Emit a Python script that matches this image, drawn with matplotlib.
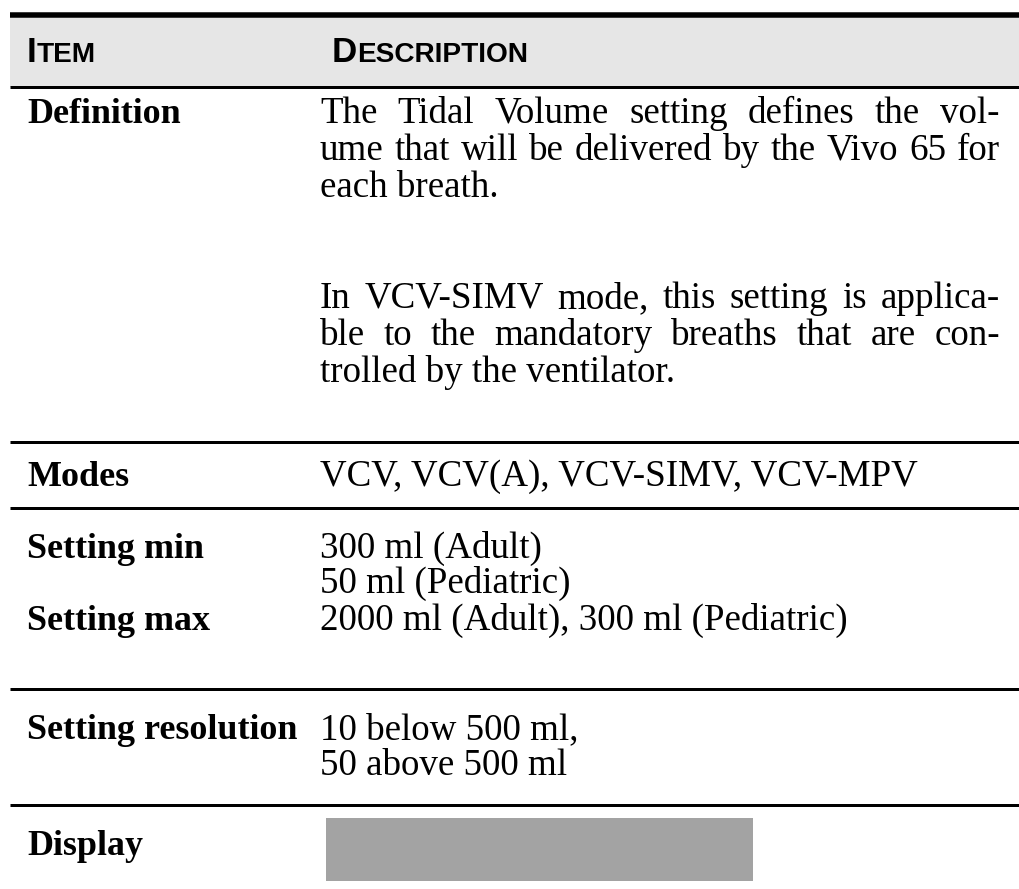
import matplotlib
matplotlib.use("Agg")
import matplotlib.pyplot as plt
from matplotlib.patches import Rectangle

# ---------------- data ----------------
header_cols = ["Item", "Description"]
items = ["Definition", "Modes", "Setting min", "Setting max",
         "Setting resolution", "Display"]
definition_par1 = ["The Tidal Volume setting defines the vol-",
                   "ume that will be delivered by the Vivo 65 for",
                   "each breath."]
definition_par2 = ["In VCV-SIMV mode, this setting is applica-",
                   "ble to the mandatory breaths that are con-",
                   "trolled by the ventilator."]
modes = ["VCV, VCV(A), VCV-SIMV, VCV-MPV"]
setting_min = ["300 ml (Adult)", "50 ml (Pediatric)"]
setting_max = ["2000 ml (Adult), 300 ml (Pediatric)"]
setting_res = ["10 below 500 ml,", "50 above 500 ml"]

# ---------------- layout ----------------
W, H, DPI = 1019, 889, 100
fig = plt.figure(figsize=(W / DPI, H / DPI), dpi=DPI)
ax = fig.add_axes([0, 0, 1, 1])
ax.set_xlim(0, W)
ax.set_ylim(H, 0)
ax.axis("off")
renderer = fig.canvas.get_renderer()


def pt(px):
    return px * 72.0 / DPI


SERIF = "Liberation Serif"
SANS = "Liberation Sans"
BODY = pt(37)
BOLD = pt(36)
X_ITEM, X_DESC, X_RIGHT = 27, 320, 1000
LINE_W = pt(3)

# header band and rules
ax.add_patch(Rectangle((10, 15), W - 10, 72, color="#e6e6e6", lw=0, zorder=0))
ax.plot([10, W], [14.5, 14.5], color="black", lw=pt(5.5), solid_capstyle="butt")
ax.plot([10, W], [87, 87], color="black", lw=LINE_W, solid_capstyle="butt")
for yl in [442, 508, 689, 805]:
    ax.plot([10, W], [yl, yl], color="black", lw=LINE_W, solid_capstyle="butt")


def small_caps(x, y, word, big=35, small=28):
    first = ax.text(x, y, word[0].upper(), fontsize=pt(big), family=SANS,
                    fontweight="bold", va="baseline", ha="left")
    wdt = first.get_window_extent(renderer).width
    ax.text(x + wdt, y, word[1:].upper(), fontsize=pt(small), family=SANS,
            fontweight="bold", va="baseline", ha="left")


small_caps(X_ITEM, 62, header_cols[0])
small_caps(332, 62, header_cols[1])


def body(x, y, s, bold=False):
    return ax.text(x, y, s, fontsize=BOLD if bold else BODY, family=SERIF,
                   fontweight="bold" if bold else "normal",
                   va="baseline", ha="left")


def justified(y, line):
    words = line.split(" ")
    texts = [body(0, y, w) for w in words]
    widths = [t.get_window_extent(renderer).width for t in texts]
    gap = (X_RIGHT - X_DESC - sum(widths)) / (len(words) - 1)
    gap = max(gap, 4)
    x = X_DESC
    for t, w in zip(texts, widths):
        t.set_x(x)
        x += w + gap


item_y = [123, 486, 558, 630, 739, 855]
for name, y in zip(items, item_y):
    body(X_ITEM, y, name, bold=True)

step = 37
y = 123
for i, line in enumerate(definition_par1):
    if i < len(definition_par1) - 1:
        justified(y, line)
    else:
        body(X_DESC, y, line)
    y += step
y += 2 * step
for i, line in enumerate(definition_par2):
    if i < len(definition_par2) - 1:
        justified(y, line)
    else:
        body(X_DESC, y, line)
    y += step

body(X_DESC, 486, modes[0])
for i, line in enumerate(setting_min):
    body(X_DESC, 558 + i * 35, line)
body(X_DESC, 630, setting_max[0])
for i, line in enumerate(setting_res):
    body(X_DESC, 739 + i * 36, line)

# display placeholder
ax.add_patch(Rectangle((326, 818), 427, 63, color="#a3a3a3", lw=0))

fig.savefig("out.png", dpi=DPI)
